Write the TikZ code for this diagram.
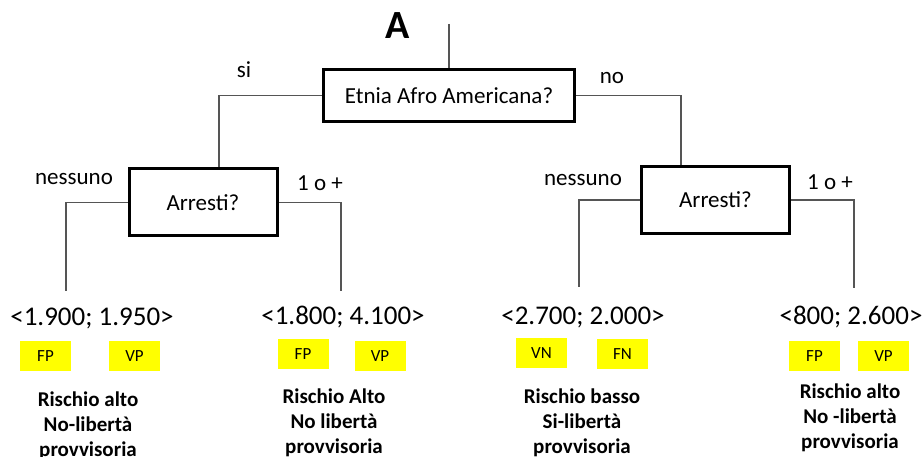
\documentclass[tikz,border=0pt]{standalone}
\usepackage{fontspec}
\setmainfont{Carlito}
\definecolor{linkgray}{RGB}{85,85,85}
\definecolor{tagyellow}{RGB}{255,255,0}

\begin{document}
\begin{tikzpicture}[
      x = 1pt, y = -1pt,
      font = \fontsize{23}{27}\selectfont,
      qbox/.style={
        draw = black,
        line width = 3pt,
        minimum width = 148pt,
        minimum height = 67pt,
        inner sep = 0pt,
      },
      link/.style={draw = linkgray, line width = 1.3pt},
      val/.style={font = \fontsize{27}{30}\selectfont, inner sep = 0pt},
      tag/.style={
        fill = tagyellow,
        minimum width = 51pt,
        minimum height = 30pt,
        inner sep = 0pt,
        font = \fontsize{17}{19}\selectfont,
      },
      outc/.style={
        align = center,
        inner sep = 0pt,
        font = \fontsize{21}{25}\selectfont\bfseries,
      },
    ]
    \useasboundingbox (0,0) rectangle (922,457);

    % decision nodes
    \node[font = \fontsize{40}{44}\selectfont\bfseries] (title) at (398,26) {A};
    \coordinate (top) at (449,24);
    \node[qbox, minimum width = 251pt, minimum height = 52pt] (root) at (449,95.5) {Etnia Afro Americana?};
    \node[qbox] (al) at (203,202.5) {Arresti?};
    \node[qbox] (ar) at (715.5,200) {Arresti?};

    % branch labels
    \node (si) at (244,70) {si};
    \node (no) at (612,78) {no};
    \node (nl) at (74,179) {nessuno};
    \node (pl) at (320,183) {1 o +};
    \node (nr) at (583,180) {nessuno};
    \node (pr) at (830,182) {1 o +};

    % ends of the branches
    \coordinate (e1) at (66,291);
    \coordinate (e2) at (341,291);
    \coordinate (e3) at (579,287);
    \coordinate (e4) at (854,288);

    \draw[link] (top) -- (root.north);
    \draw[link] (root.west) -| ([xshift=16pt]al.north);
    \draw[link] (root.east) -| ([xshift=-34.5pt]ar.north);
    \draw[link] (al.west) -| (e1);
    \draw[link] (al.east) -| (e2);
    \draw[link] (ar.west) -| (e3);
    \draw[link] (ar.east) -| (e4);

    % leaves
    \node[val] (v1) at (92,318) {<1.900; 1.950>};
    \node[val] (v2) at (343,317) {<1.800; 4.100>};
    \node[val] (v3) at (583,317) {<2.700; 2.000>};
    \node[val] (v4) at (851,317) {<800; 2.600>};

    \node[tag] (t1a) at (45.5,356) {FP};
    \node[tag] (t1b) at (134.5,356) {VP};
    \node[tag] (t2a) at (303,354) {FP};
    \node[tag] (t2b) at (380,356) {VP};
    \node[tag] (t3a) at (541.5,353) {VN};
    \node[tag] (t3b) at (622.5,354) {FN};
    \node[tag] (t4a) at (814.5,356) {FP};
    \node[tag] (t4b) at (883.5,356) {VP};

    \node[outc] (o1) at (88,426) {Rischio alto\\No-libertà\\provvisoria};
    \node[outc] (o2) at (334,423) {Rischio Alto\\No libertà\\provvisoria};
    \node[outc] (o3) at (582,423) {Rischio basso\\Si-libertà\\provvisoria};
    \node[outc] (o4) at (850,418) {Rischio alto\\No -libertà\\provvisoria};
  \end{tikzpicture}
\end{document}
